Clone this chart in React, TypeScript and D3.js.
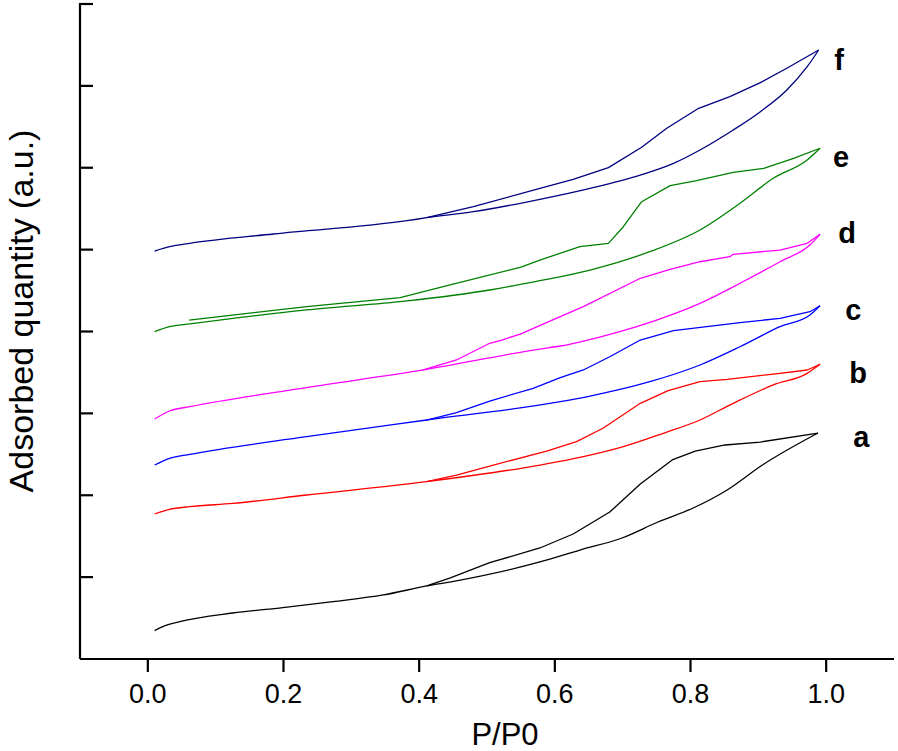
import React from "react";
import * as d3 from "d3";

type Pt = [number, number];

// x tick values / labels
const xTicks = [0, 0.2, 0.4, 0.6, 0.8, 1.0];
const yTicks = [1, 2, 3, 4, 5, 6, 7, 8];

// sample labels
const labels = ["a", "b", "c", "d", "e", "f"];
const colors = ["#000000", "#ff0000", "#0000ff", "#ff00ff", "#008000", "#000080"];

// a (black)
const aAds: Pt[] = [
  [0.010, 0.346], [0.022, 0.395], [0.047, 0.456], [0.125, 0.562], [0.199, 0.627], [0.273, 0.700],
  [0.347, 0.782], [0.411, 0.892], [0.445, 0.940], [0.578, 1.185], [0.637, 1.331],
  [0.699, 1.478], [0.752, 1.673], [0.804, 1.844], [0.854, 2.064], [0.906, 2.369], [0.988, 2.760],
];
const aDes: Pt[] = [
  [0.988, 2.760], [0.903, 2.650], [0.851, 2.614], [0.807, 2.540], [0.773, 2.431],
  [0.726, 2.137], [0.681, 1.795], [0.627, 1.527], [0.578, 1.356], [0.504, 1.176],
  [0.445, 0.989], [0.411, 0.892],
];
// b (red)
const bAds: Pt[] = [
  [0.010, 1.771], [0.032, 1.828], [0.062, 1.860], [0.125, 1.900], [0.234, 2.003],
  [0.411, 2.166], [0.578, 2.369], [0.642, 2.471], [0.701, 2.593], [0.760, 2.757],
  [0.814, 2.919], [0.863, 3.123], [0.922, 3.347], [0.972, 3.489], [0.991, 3.599],
];
const bDes: Pt[] = [
  [0.991, 3.599], [0.972, 3.530], [0.932, 3.489], [0.854, 3.416], [0.814, 3.387],
  [0.767, 3.277], [0.726, 3.123], [0.671, 2.818], [0.632, 2.654], [0.588, 2.540],
  [0.504, 2.357], [0.455, 2.247], [0.411, 2.166],
];
// c (blue)
const cAds: Pt[] = [
  [0.010, 2.369], [0.032, 2.451], [0.062, 2.500], [0.234, 2.715], [0.411, 2.919],
  [0.608, 3.143], [0.652, 3.212], [0.740, 3.387], [0.814, 3.591], [0.873, 3.814],
  [0.932, 4.059], [0.976, 4.202], [0.991, 4.315],
];
const cDes: Pt[] = [
  [0.991, 4.315], [0.976, 4.242], [0.932, 4.161], [0.873, 4.108], [0.824, 4.059],
  [0.775, 4.010], [0.726, 3.896], [0.681, 3.692], [0.642, 3.530], [0.608, 3.436],
  [0.568, 3.306], [0.504, 3.151], [0.455, 3.008], [0.411, 2.919],
];
// d (magenta)
const dAds: Pt[] = [
  [0.010, 2.931], [0.032, 3.029], [0.062, 3.082], [0.234, 3.314], [0.406, 3.530],
  [0.578, 3.786], [0.608, 3.823], [0.677, 3.957], [0.750, 4.140], [0.814, 4.344],
  [0.873, 4.589], [0.932, 4.852], [0.976, 5.057], [0.991, 5.187],
];
const dDes: Pt[] = [
  [0.991, 5.187], [0.972, 5.077], [0.932, 4.995], [0.863, 4.943], [0.858, 4.914],
  [0.814, 4.852], [0.770, 4.760], [0.726, 4.650], [0.642, 4.303], [0.608, 4.181],
  [0.549, 3.969], [0.522, 3.896], [0.504, 3.856], [0.455, 3.652], [0.406, 3.530],
];
// e (green)
const eAds: Pt[] = [
  [0.010, 3.998], [0.032, 4.059], [0.062, 4.092], [0.234, 4.263], [0.382, 4.373],
  [0.504, 4.507], [0.578, 4.621], [0.652, 4.751], [0.740, 4.975], [0.814, 5.240],
  [0.873, 5.566], [0.922, 5.871], [0.972, 6.095], [0.991, 6.238],
];
const eDes: Pt[] = [
  [0.991, 6.238], [0.952, 6.115], [0.908, 5.993], [0.863, 5.944], [0.809, 5.842],
  [0.770, 5.781], [0.728, 5.585], [0.701, 5.280], [0.679, 5.077], [0.637, 5.036],
  [0.578, 4.873], [0.549, 4.784], [0.431, 4.540], [0.372, 4.413], [0.234, 4.303],
  [0.061, 4.140],
];
// f (navy)
const fAds: Pt[] = [
  [0.010, 4.983], [0.032, 5.036], [0.062, 5.077], [0.185, 5.191], [0.382, 5.353],
  [0.411, 5.390], [0.480, 5.463], [0.578, 5.615], [0.652, 5.749], [0.726, 5.911],
  [0.775, 6.054], [0.814, 6.217], [0.863, 6.461], [0.903, 6.685], [0.942, 6.950],
  [0.972, 7.234], [0.989, 7.438],
];
const fDes: Pt[] = [
  [0.989, 7.438], [0.942, 7.215], [0.903, 7.039], [0.858, 6.868], [0.812, 6.726],
  [0.765, 6.482], [0.728, 6.250], [0.679, 6.001], [0.627, 5.859], [0.578, 5.749],
  [0.480, 5.524], [0.411, 5.390],
];

const adsBranches = [aAds, bAds, cAds, dAds, eAds, fAds];
const desBranches = [aDes, bDes, cDes, dDes, eDes, fDes];
// label anchor positions (data units): x, y
const labelPos: Pt[] = [
  [1.052, 2.589], [1.047, 3.370], [1.040, 4.140], [1.031, 5.080], [1.022, 6.010], [1.019, 7.194],
];

const W = 898;
const H = 751;
const FONT = "'Liberation Sans', Arial, Helvetica, sans-serif";

export default function App() {
  const x = d3.scaleLinear().domain([-0.1, 1.1]).range([80, 894]);
  const y = d3.scaleLinear().domain([0, 8]).range([659, 4]);
  const smooth = d3
    .line<Pt>()
    .x((d) => x(d[0]))
    .y((d) => y(d[1]))
    .curve(d3.curveMonotoneX);
  const line = d3
    .line<Pt>()
    .x((d) => x(d[0]))
    .y((d) => y(d[1]))
    .curve(d3.curveLinear);

  return (
    <svg
      width={W}
      height={H}
      style={{ position: "absolute", left: 0, top: 0, background: "#fff" }}
      fontFamily={FONT}
    >
      <rect x={0} y={0} width={W} height={H} fill="#fff" />
      {/* curves */}
      {adsBranches.map((ads, i) => (
        <g key={i}>
          <path d={smooth(ads) || ""} fill="none" stroke={colors[i]} strokeWidth={1.3} strokeLinejoin="round" />
          <path d={line(desBranches[i]) || ""} fill="none" stroke={colors[i]} strokeWidth={1.3} strokeLinejoin="round" />
        </g>
      ))}
      {/* labels */}
      {labels.map((l, i) => (
        <text
          key={l}
          x={x(labelPos[i][0])}
          y={y(labelPos[i][1])}
          fontSize={29}
          fontWeight="bold"
          textAnchor="middle"
          fill="#000"
        >
          {l}
        </text>
      ))}
      {/* axes */}
      <line x1={x(-0.1)} x2={x(1.1)} y1={y(0)} y2={y(0)} stroke="#000" strokeWidth={2.2} />
      <line x1={x(-0.1)} x2={x(-0.1)} y1={y(0)} y2={y(8) - 1} stroke="#000" strokeWidth={2.2} />
      {xTicks.map((t) => (
        <g key={t}>
          <line x1={x(t)} x2={x(t)} y1={y(0)} y2={y(0) + 13} stroke="#000" strokeWidth={2.2} />
          <text x={x(t)} y={703} fontSize={27} textAnchor="middle" fill="#000">
            {d3.format(".1f")(t)}
          </text>
        </g>
      ))}
      {yTicks.map((t) => (
        <line key={t} x1={x(-0.1)} x2={x(-0.1) + 13} y1={y(t)} y2={y(t)} stroke="#000" strokeWidth={2.2} />
      ))}
      <text x={505} y={745} fontSize={31} textAnchor="middle" fill="#000">
        P/P0
      </text>
      <text
        transform={`translate(33,311) rotate(-90)`}
        fontSize={34}
        textAnchor="middle"
        fill="#000"
      >
        Adsorbed quantity (a.u.)
      </text>
    </svg>
  );
}
